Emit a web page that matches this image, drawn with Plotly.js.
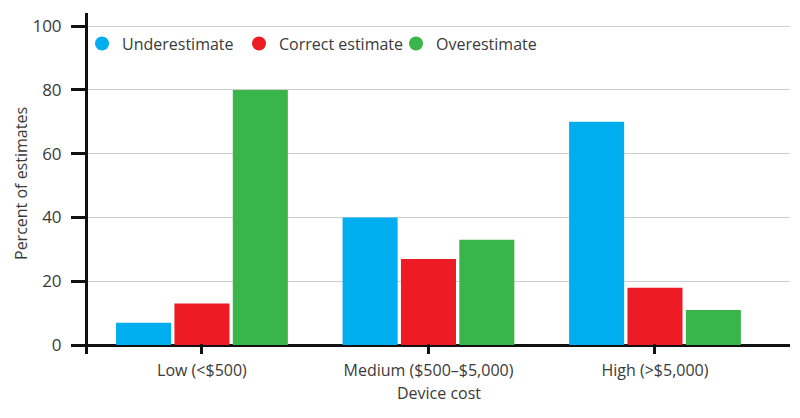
<!DOCTYPE html>
<html>
<head>
<meta charset="utf-8">
<script src="https://cdn.plot.ly/plotly-3.0.1.min.js"></script>
<style>
  html, body { margin: 0; padding: 0; background: #fff; }
  #chart { width: 800px; height: 418px; }
</style>
</head>
<body>
<div id="chart"></div>
<script>
// Chart data
const categories = ['Low (<$500)', 'Medium ($500–$5,000)', 'High (>$5,000)'];
const seriesNames = ['Underestimate', 'Correct estimate', 'Overestimate'];
const underestimate = [7, 40, 70];
const correctEstimate = [13, 27, 18];
const overestimate = [80, 33, 11];
const yTicks = [0, 20, 40, 60, 80, 100];

const colors = ['#00aeef', '#ed1c24', '#39b54a'];
const values = [underestimate, correctEstimate, overestimate];
const textColor = '#3a3a3a';
const fontFamily = 'Open Sans, sans-serif';

// Bars (legend hidden, round legend symbols come from marker-only traces)
const traces = values.map((vals, i) => ({
    type: 'bar',
    x: categories,
    y: vals,
    name: seriesNames[i],
    marker: { color: colors[i] },
    showlegend: false
}));

// Legend entries with round symbols
seriesNames.forEach((name, i) => {
    traces.push({
        type: 'scatter',
        mode: 'markers',
        x: [null],
        y: [null],
        name: name,
        marker: { color: colors[i], size: 14, symbol: 'circle' },
        showlegend: true
    });
});

const layout = {
    width: 800,
    height: 418,
    margin: { l: 88, r: 10, t: 13, b: 64 },
    paper_bgcolor: '#fff',
    plot_bgcolor: '#fff',
    font: { family: fontFamily, size: 15, color: textColor },
    barmode: 'group',
    bargap: 0.227,
    bargroupgap: 0.057,
    showlegend: true,
    legend: {
        orientation: 'h',
        x: 0,
        xanchor: 'left',
        y: 0.96,
        yanchor: 'top',
        indentation: -6,
        font: { family: fontFamily, size: 16, color: textColor },
        bgcolor: 'rgba(0,0,0,0)',
        itemwidth: 30,
        entrywidth: 118,
        entrywidthmode: 'pixels'
    },
    xaxis: {
        type: 'category',
        range: [-0.503, 2.596],
        showline: false,
        showgrid: false,
        zeroline: false,
        ticks: 'inside',
        ticklen: 10,
        tickwidth: 3,
        tickcolor: '#111',
        ticklabelstandoff: 5,
        tickfont: { family: fontFamily, size: 16, color: textColor },
        title: { text: 'Device cost', font: { family: fontFamily, size: 16, color: textColor }, standoff: 7 },
        automargin: false
    },
    yaxis: {
        range: [-2.8, 104.1],
        tickvals: yTicks,
        ticktext: yTicks.map(String),
        showline: true,
        linecolor: '#111',
        linewidth: 3,
        showgrid: true,
        gridcolor: '#cfcfcf',
        gridwidth: 1,
        zeroline: true,
        zerolinecolor: '#111',
        zerolinewidth: 3,
        ticks: 'outside',
        ticklen: 14,
        tickwidth: 3,
        tickcolor: '#111',
        ticklabelstandoff: 6,
        tickfont: { family: fontFamily, size: 17, color: textColor },
        title: { text: 'Percent of estimates', font: { family: fontFamily, size: 16, color: textColor }, standoff: 1 },
        automargin: false
    }
};

Plotly.newPlot('chart', traces, layout, { displayModeBar: false, staticPlot: true });
</script>
</body>
</html>
